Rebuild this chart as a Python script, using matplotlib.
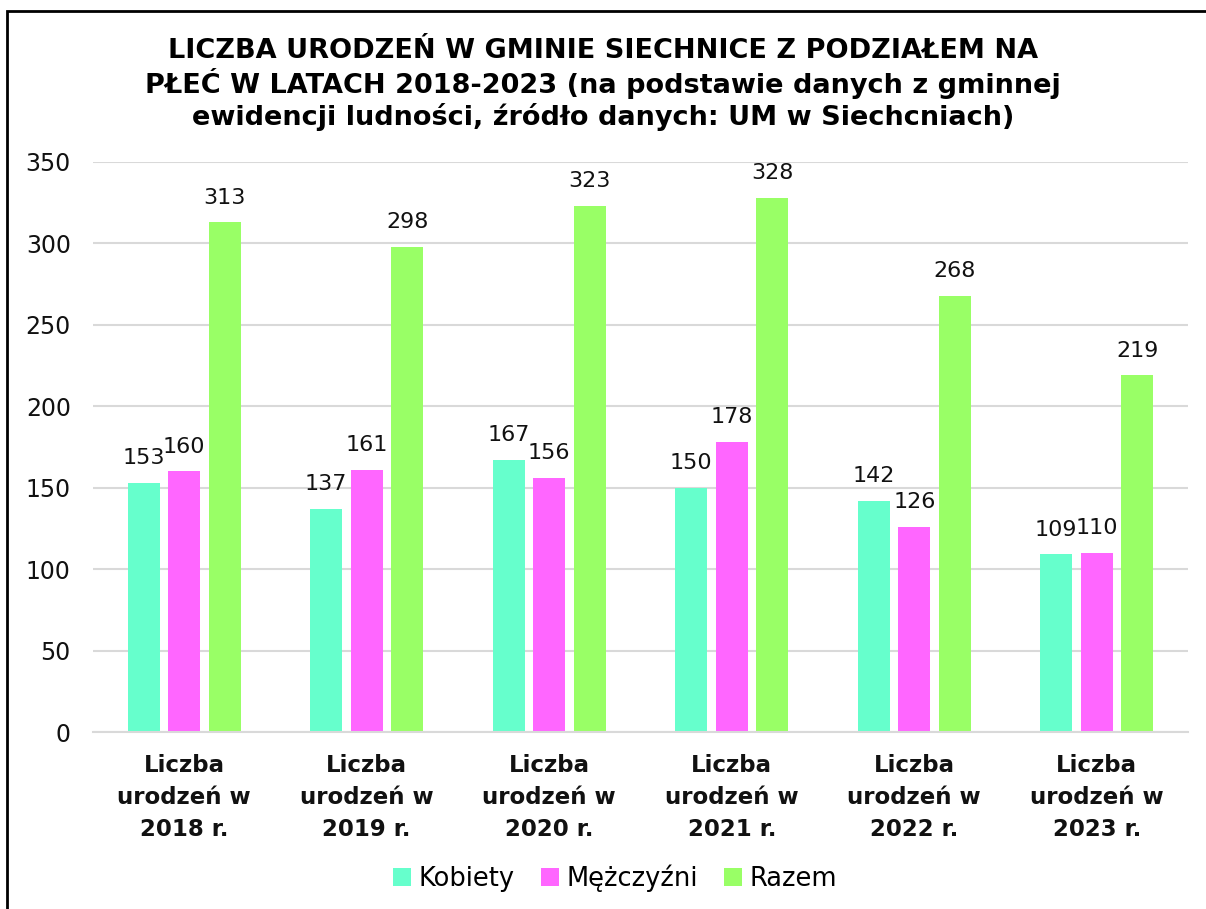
import numpy as np
import matplotlib.pyplot as plt
from matplotlib.patches import Rectangle

plt.rcParams['font.family'] = ['DejaVu Sans']

kategorie = ['Liczba\nurodzeń w\n2018 r.', 'Liczba\nurodzeń w\n2019 r.', 'Liczba\nurodzeń w\n2020 r.',
             'Liczba\nurodzeń w\n2021 r.', 'Liczba\nurodzeń w\n2022 r.', 'Liczba\nurodzeń w\n2023 r.']
kobiety = [153, 137, 167, 150, 142, 109]
mezczyzni = [160, 161, 156, 178, 126, 110]
razem = [313, 298, 323, 328, 268, 219]
serie = ['Kobiety', 'Mężczyźni', 'Razem']
kolory = ['#66FFCC', '#FF66FF', '#99FF66']

fig = plt.figure(figsize=(12.06, 9.09), dpi=100)
ax = fig.add_axes([93/1206, 1-732/909, (1188-93)/1206, (732-162)/909])

x = np.arange(len(kategorie))
w = 0.176
step = 0.222
for i, (vals, lab, c) in enumerate(zip([kobiety, mezczyzni, razem], serie, kolory)):
    bars = ax.bar(x + (i-1)*step, vals, w, color=c, label=lab, zorder=2)
    for b, v in zip(bars, vals):
        ax.text(b.get_x() + b.get_width()/2, v + 9, str(v), ha='center', va='bottom',
                fontsize=16, color='#111111')

ax.set_ylim(0, 350)
ax.set_xlim(-0.5, 5.5)
ax.set_yticks(np.arange(0, 351, 50))
ax.yaxis.grid(True, color='#d9d9d9', linewidth=1.5, zorder=0)
ax.set_axisbelow(True)
for s in ['top', 'right', 'left']:
    ax.spines[s].set_visible(False)
ax.spines['bottom'].set_color('#d9d9d9')
ax.spines['bottom'].set_linewidth(1.5)
ax.tick_params(axis='both', length=0, labelsize=17, colors='#111111')
ax.tick_params(axis='y', pad=16)
ax.tick_params(axis='x', pad=16)
ax.set_xticks(x)
ax.set_xticklabels(kategorie, fontweight='bold', fontsize=16.5, linespacing=1.5)

fig.text(0.5, 1-38/909, 'LICZBA URODZEŃ W GMINIE SIECHNICE Z PODZIAŁEM NA\n'
         'PŁEĆ W LATACH 2018-2023 (na podstawie danych z gminnej\n'
         'ewidencji ludności, źródło danych: UM w Siechcniach)',
         ha='center', va='top', fontsize=19.5, fontweight='bold', linespacing=1.17)

fig.legend(loc='center', bbox_to_anchor=(615/1206, 1-878/909), ncol=3, frameon=False,
           fontsize=18.5, handlelength=0.7, handleheight=0.7, handletextpad=0.3, columnspacing=1.0)

fig.patches.append(Rectangle((7/1206, -0.1), 1.2, 1-11/909+0.1, transform=fig.transFigure,
                             fill=False, edgecolor='black', linewidth=2))

fig.savefig('out.png', dpi=100)
